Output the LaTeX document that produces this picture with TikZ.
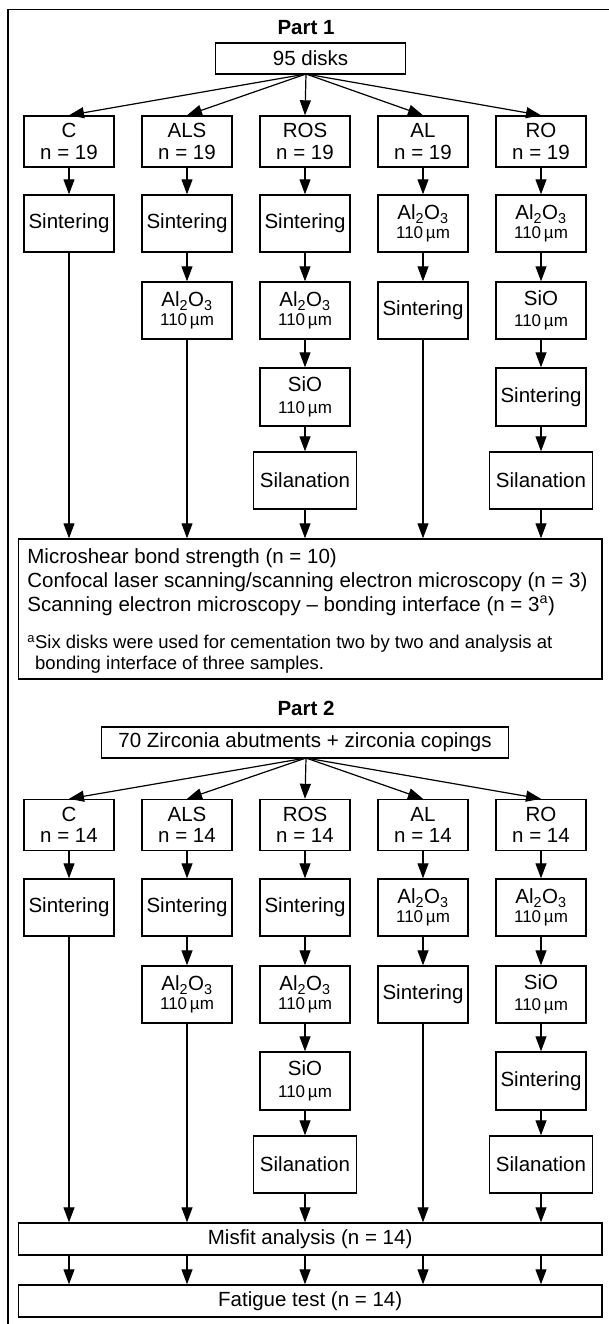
\documentclass[tikz,border=0pt]{standalone}
\usepackage{fontspec}
\setmainfont{Liberation Sans}
\usetikzlibrary{arrows.meta}
\newcommand{\myfs}[2]{\fontsize{#1}{#2}\selectfont}
\newcommand{\alox}{Al\textsubscript{2}O\textsubscript{3}\\[-3pt]{\myfs{17}{17.5}110\,µm}}
\newcommand{\siox}{SiO\\[0pt]{\myfs{17}{17.5}110\,µm}}
\tikzset{
  bx/.style={draw, line width=1.4pt, inner sep=0pt, align=center,
    minimum width=89.8pt, font=\myfs{20.5}{21.5}},
  wbx/.style={bx, minimum width=103.5pt},
  hA/.style={minimum height=51pt},
  hB/.style={minimum height=57pt},
  hC/.style={minimum height=58pt},
  arr/.style={line width=1.2pt, -{Triangle[length=15pt,width=11pt]}},
  lbl/.style={inner sep=0pt, anchor=base west, font=\myfs{20.5}{21.5}},
  fnl/.style={inner sep=0pt, anchor=base west, font=\myfs{18.5}{19}},
  ttl/.style={inner sep=0pt, font=\bfseries\myfs{20.5}{21}}
}
\begin{document}
\begin{tikzpicture}[x=1pt,y=-1pt]
\useasboundingbox[fill=white] (0,0) rectangle (609,1324);
% outer frame (top and left edges)
\draw[line width=1.5pt] (7.8,1324) -- (7.8,9.3) -- (609,9.3);

% ================= Part 1 =================
\node[ttl] (p1) at (306,28) {Part 1};
\node[bx, minimum width=189.7pt, minimum height=31pt] (t1) at (310.5,58.5) {95 disks};
\coordinate (f1) at (306,74);

\node[bx,hA] (a1) at (69,141.5)  {C\\n = 19};
\node[bx,hA] (b1) at (187,141.5) {ALS\\n = 19};
\node[bx,hA] (c1) at (305,141.5) {ROS\\n = 19};
\node[bx,hA] (d1) at (423,141.5) {AL\\n = 19};
\node[bx,hA] (e1) at (541,141.5) {RO\\n = 19};

\node[bx,hB] (a2) at (69,223.5)  {Sintering};
\node[bx,hB] (b2) at (187,223.5) {Sintering};
\node[bx,hB] (c2) at (305,223.5) {Sintering};
\node[bx,hB] (d2) at (423,223.5) {\alox};
\node[bx,hB] (e2) at (541,223.5) {\alox};

\node[bx,hB] (b3) at (187,310.5) {\alox};
\node[bx,hB] (c3) at (305,310.5) {\alox};
\node[bx,hB] (d3) at (423,310.5) {Sintering};
\node[bx,hB] (e3) at (541,310.5) {\siox};

\node[bx,hC] (c4) at (305,397) {\siox};
\node[bx,hC] (e4) at (541,397) {Sintering};

\node[wbx,hB] (c5) at (305,480.5) {Silanation};
\node[wbx,hB] (e5) at (541,480.5) {Silanation};

\node[draw, line width=1.4pt, minimum width=583.7pt, minimum height=140pt, inner sep=0pt] (big) at (310.15,609) {};
\node[lbl] (m1) at (27.2,563.3) {Microshear bond strength (n = 10)};
\node[lbl] (m2) at (27.2,587.3) {Confocal laser scanning/scanning electron microscopy (n = 3)};
\node[lbl] (m3) at (27.2,611) {Scanning electron microscopy – bonding interface (n = 3\textsuperscript{a})};
\node[fnl] (fn1) at (27.2,648.3) {\textsuperscript{a}Six disks were used for cementation two by two and analysis at};
\node[fnl] (fn2) at (35,669.3) {bonding interface of three samples.};

\foreach \n in {a1,b1,c1,d1,e1} \draw[arr] (f1) -- (\n.north);
\draw[arr] (a1) -- (a2);
\draw[arr] (b1) -- (b2);
\draw[arr] (c1) -- (c2);
\draw[arr] (d1) -- (d2);
\draw[arr] (e1) -- (e2);
\draw[arr] (b2) -- (b3);
\draw[arr] (c2) -- (c3);
\draw[arr] (d2) -- (d3);
\draw[arr] (e2) -- (e3);
\draw[arr] (c3) -- (c4);
\draw[arr] (e3) -- (e4);
\draw[arr] (c4) -- (c5);
\draw[arr] (e4) -- (e5);
\draw[arr] (a2.south) -- (a2.south |- big.north);
\draw[arr] (b3.south) -- (b3.south |- big.north);
\draw[arr] (c5.south) -- (c5.south |- big.north);
\draw[arr] (d3.south) -- (d3.south |- big.north);
\draw[arr] (e5.south) -- (e5.south |- big.north);

% ================= Part 2 =================
\node[ttl] (p2) at (306,708.3) {Part 2};
\node[bx, minimum width=407pt, minimum height=31pt] (t2) at (305,742.5) {70 Zirconia abutments + zirconia copings};
\coordinate (f2) at (306,758);

\node[bx,hA] (a6) at (69,825)  {C\\n = 14};
\node[bx,hA] (b6) at (187,825) {ALS\\n = 14};
\node[bx,hA] (c6) at (305,825) {ROS\\n = 14};
\node[bx,hA] (d6) at (423,825) {AL\\n = 14};
\node[bx,hA] (e6) at (541,825) {RO\\n = 14};

\node[bx,hB] (a7) at (69,907.5)  {Sintering};
\node[bx,hB] (b7) at (187,907.5) {Sintering};
\node[bx,hB] (c7) at (305,907.5) {Sintering};
\node[bx,hB] (d7) at (423,907.5) {\alox};
\node[bx,hB] (e7) at (541,907.5) {\alox};

\node[bx,hB] (b8) at (187,994.5) {\alox};
\node[bx,hB] (c8) at (305,994.5) {\alox};
\node[bx,hB] (d8) at (423,994.5) {Sintering};
\node[bx,hB] (e8) at (541,994.5) {\siox};

\node[bx,hC] (c9) at (305,1081) {\siox};
\node[bx,hC] (e9) at (541,1081) {Sintering};

\node[wbx,hB] (c10) at (305,1164.5) {Silanation};
\node[wbx,hB] (e10) at (541,1164.5) {Silanation};

\node[bx, minimum width=583.7pt, minimum height=32pt] (mis) at (310.15,1239) {Misfit analysis (n = 14)};
\node[bx, minimum width=583.7pt, minimum height=32pt] (fat) at (310.15,1301) {Fatigue test (n = 14)};

\foreach \n in {a6,b6,c6,d6,e6} \draw[arr] (f2) -- (\n.north);
\draw[arr] (a6) -- (a7);
\draw[arr] (b6) -- (b7);
\draw[arr] (c6) -- (c7);
\draw[arr] (d6) -- (d7);
\draw[arr] (e6) -- (e7);
\draw[arr] (b7) -- (b8);
\draw[arr] (c7) -- (c8);
\draw[arr] (d7) -- (d8);
\draw[arr] (e7) -- (e8);
\draw[arr] (c8) -- (c9);
\draw[arr] (e8) -- (e9);
\draw[arr] (c9) -- (c10);
\draw[arr] (e9) -- (e10);
\draw[arr] (a7.south) -- (a7.south |- mis.north);
\draw[arr] (b8.south) -- (b8.south |- mis.north);
\draw[arr] (c10.south) -- (c10.south |- mis.north);
\draw[arr] (d8.south) -- (d8.south |- mis.north);
\draw[arr] (e10.south) -- (e10.south |- mis.north);
\foreach \n in {a6,b6,c6,d6,e6} \draw[arr] (\n |- mis.south) -- (\n |- fat.north);
\end{tikzpicture}
\end{document}
